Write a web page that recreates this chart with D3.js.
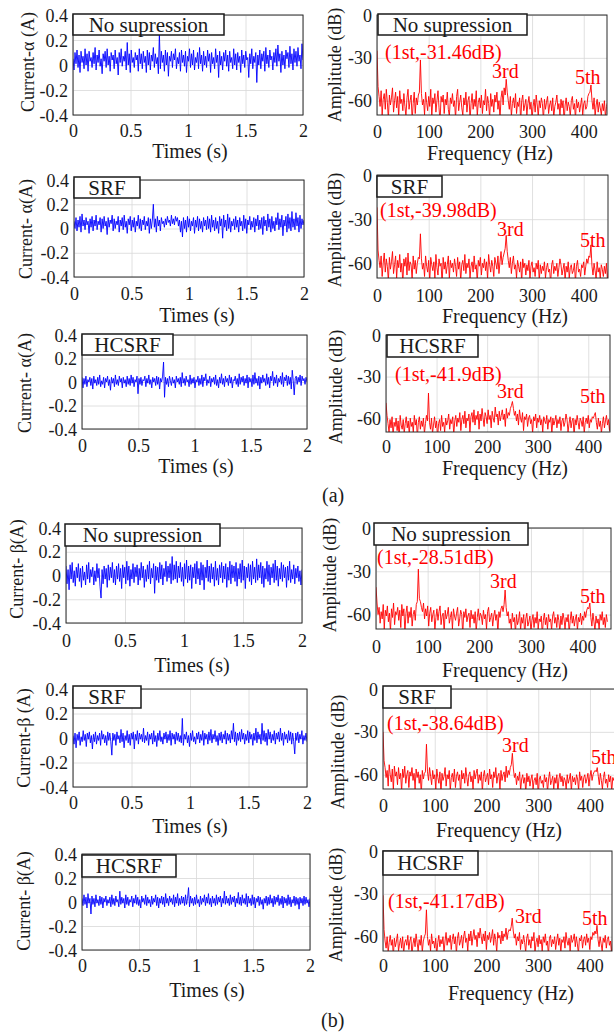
<!DOCTYPE html>
<html>
<head>
<meta charset="utf-8">
<script src="https://cdn.jsdelivr.net/npm/d3@7"></script>
<style>
  html, body { margin: 0; padding: 0; background: #fff; }
  svg { display: block; font-family: "Liberation Serif", "Times New Roman", serif; }
</style>
</head>
<body>
<script>
// ---- tick values ----
const timeTicks = [0, 0.5, 1, 1.5, 2];
const currentTicks = [-0.4, -0.2, 0, 0.2, 0.4];
const freqTicks = [0, 100, 200, 300, 400];
const ampTicks = [-60, -30, 0];

const methods = ["No supression", "SRF", "HCSRF", "No supression", "SRF", "HCSRF"];
const currentLabels = ["Current-α (A)", "Current- α(A)", "Current- α(A)",
                       "Current- β(A)", "Current-β (A)", "Current- β(A)"];
const harmonicNames = ["3rd", "5th"];
const fundamentalDb = [-31.46, -39.98, -41.9, -28.51, -38.64, -41.17];
const sampleSpanS = 2;      // time record length (s)
const spectrumStepHz = 2;   // FFT bin spacing (Hz)

// ---- phase currents (A) ----
const alphaNoSup = [
  .05,-.04,.10,.01,.12,-.02,.08,-.06,.11,.02, .07,-.03,.13,.00,.09,-.05,.11,.03,.06,-.02,
  .10,.01,.14,-.04,.08,.02,.12,-.01,.05,-.07, .09,.03,.11,-.02,.13,.00,.07,-.05,.10,.04,
  .08,-.03,.12,.01,.06,-.08,.10,.02,.13,-.01, .07,.03,.11,-.04,.18,.00,.09,-.06,.12,.02,
  .06,-.02,.10,.04,.08,-.05,.13,.01,.09,-.03, .11,.02,.07,-.06,.12,.00,.10,-.04,.08,.03,
  .14,-.02,.09,.01,.06,-.07,.25,-.03,.11,.02, .08,-.05,.12,.00,.10,-.09,.07,.03,.11,-.02,
  .09,.04,.13,-.03,.06,.01,.10,-.05,.12,.02, .08,-.01,.11,-.06,.07,.03,.13,-.02,.09,.00,
  .12,-.04,.06,.02,.10,-.03,.14,.01,.08,-.05, .11,.00,.07,-.02,.12,.03,.09,-.06,.10,.01,
  .06,-.03,.13,.02,.08,-.10,.11,.00,.07,-.04, .10,.03,.12,-.01,.08,-.05,.11,.02,.06,-.03,
  .13,.00,.09,-.04,.10,.02,.07,-.06,.12,.01, .08,-.02,.11,.04,.06,-.10,.09,.01,.13,-.03,
  .07,.02,.10,-.14,.08,.00,.12,-.03,.09,.03, .11,-.05,.14,.01,.08,-.02,.12,.04,.07,-.04,
  .10,.02,.13,-.01,.16,.03,.09,-.06,.11,.00, .08,-.03,.12,.05,.10,-.02,.15,.01,.09,-.04,
  .13,.02,.11,-.01,.14,.03,.08,-.03,.17,.04];
const alphaSRF = [
  .06,.00,.09,-.02,.07,.01,.10,-.03,.12,.02, .07,-.01,.09,.03,.06,-.04,.08,.01,.10,-.02,
  .07,.02,.11,-.01,.06,.03,.09,-.03,.08,.00, .10,.02,.06,-.05,.09,.01,.07,.04,.11,-.02,
  .08,.00,.06,.03,.10,-.03,.07,.02,.09,-.01, .11,.01,.06,-.04,.08,.03,.10,-.02,.07,.01,
  .09,-.03,.06,.02,.11,.00,.08,-.02,.07,.03, .10,-.01,.06,.02,.09,-.04,.08,.00,.07,.20,
  .01,.08,-.03,.10,.02,.07,-.02,.09,.04,.06, .01,.08,.03,.10,.05,.07,.02,.11,.04,.08,
  .03,.10,.06,.09,.02,.07,-.03,.06,-.07,.09, .00,.07,-.03,.10,.01,.08,-.02,.06,.02,.09,
  -.04,.07,.01,.10,-.02,.08,.00,.06,-.03,.09, .02,.07,-.01,.10,.00,.08,-.03,.11,.01,.07,
  -.02,.09,.00,.06,-.04,.10,.02,.08,-.08,.11, .01,.07,-.02,.12,.00,.09,-.03,.06,.02,.08,
  -.01,.10,.01,.07,-.03,.09,.02,.06,-.02,.11, .00,.08,-.04,.07,.03,.10,-.01,.06,.01,.09,
  -.03,.08,.02,.11,-.01,.07,.00,.09,-.05,.10, .02,.07,-.02,.12,.01,.08,-.03,.10,.00,.06,
  -.02,.09,.03,.13,-.01,.08,.01,.11,-.06,.07, .02,.10,-.03,.12,.00,.09,-.02,.14,.01,.08,
  -.01,.13,.02,.09,-.03,.11,.00,.08,.03,.07];
const alphaHCSRF = [
  .04,-.05,.03,-.02,.05,-.04,.02,.00,.04,-.03, .03,-.06,.05,-.01,.02,-.03,.04,-.02,.06,-.04,
  .01,-.02,.04,-.05,.03,.00,.05,-.03,.02,-.07, .04,-.01,.03,-.04,.06,-.02,.02,-.03,.05,.00,
  .03,-.05,.04,-.01,.02,-.04,.05,-.02,.03,-.03, .06,-.01,.04,-.04,.02,.00,.05,-.10,.03,-.02,
  .04,-.03,.02,.01,.05,-.04,.03,-.01,.06,-.02, .02,-.05,.04,.00,.03,-.03,.05,-.02,.04,-.06,
  .03,.00,.05,.17,-.13,.04,-.02,.03,-.04,.05, .01,-.03,.04,-.01,.02,-.05,.05,.00,.03,-.02,
  .04,-.04,.08,-.01,.03,-.03,.05,.00,.02,-.04, .06,-.02,.03,-.01,.04,-.05,.02,.00,.05,-.03,
  .03,-.02,.06,-.04,.04,.01,.07,-.03,.02,-.01, .05,-.04,.03,.00,.04,-.02,.06,-.03,.02,-.05,
  .04,-.01,.07,-.02,.03,-.04,.05,.00,.03,-.03, .06,-.01,.04,-.05,.02,.01,.05,-.02,.03,-.04,
  .07,-.02,.04,.00,.05,-.03,.03,-.01,.06,-.05, .04,.00,.03,-.04,.06,-.02,.08,-.01,.03,-.03,
  .05,-.06,.04,-.01,.06,.00,.03,-.03,.07,-.02, .04,-.05,.05,.01,.09,-.03,.04,-.01,.06,-.04,
  .03,.00,.05,-.02,.08,-.04,.04,.01,.06,-.03, .05,-.02,.04,-.06,.10,.01,-.11,.03,.05,-.02,
  .04,.00,.06,-.03,.05,.01,.03,-.02,.04,.00];
const betaNoSup = [
  .08,-.07,.05,-.12,.09,-.03,.11,-.06,.04,-.09, .07,-.02,.10,-.05,.06,-.10,.08,-.04,.03,-.08,
  .09,-.03,.11,-.06,.05,-.01,.07,-.08,.04,-.05, .10,-.02,.06,-.09,-.19,.05,-.07,.08,-.03,.06,
  -.10,.09,-.04,.07,-.02,.11,-.06,.05,-.08,.08, -.03,.10,-.05,.06,-.11,.09,-.02,.07,-.07,.12,
  -.04,.08,-.09,.05,-.03,.10,-.06,.07,-.01,.09, -.08,.06,-.04,.11,-.02,.08,-.10,.05,-.05,.09,
  -.03,.12,-.07,.06,-.02,.10,-.15,.08,-.04,.07, -.06,.11,-.03,.09,-.08,.06,-.01,.12,-.05,.08,
  -.02,.10,-.07,.16,-.04,.09,-.03,.12,-.06,.08, -.02,.11,-.05,.07,-.09,.10,-.03,.13,-.06,.08,
  -.04,.09,-.11,.07,-.02,.10,-.07,.12,-.03,.06, -.08,.11,-.04,.09,-.12,.07,-.02,.13,-.05,.08,
  -.06,.10,-.03,.07,-.09,.12,-.04,.06,-.08,.09, -.02,.11,-.06,.08,-.03,.10,-.10,.07,-.04,.12,
  -.07,.09,-.02,.08,-.05,.11,-.09,.06,-.03,.10, -.06,.13,-.04,.08,-.11,.07,-.02,.10,-.05,.09,
  -.08,.12,-.03,.07,-.06,.14,-.04,.09,-.02,.11, -.07,.08,-.10,.06,-.03,.12,-.05,.09,-.08,.07,
  -.02,.10,-.06,.13,-.04,.08,-.09,.06,-.03,.11, -.05,.09,-.02,.07,-.10,.08,-.04,.12,-.06,.05,
  -.03,.09,-.07,.06,-.02,.08,-.05,.04,-.08,.05];
const betaSRF = [
  .02,-.05,.04,-.08,.03,-.02,.05,-.06,.01,-.03, .06,-.02,.03,-.07,.04,-.01,.05,-.04,.02,-.09,
  .03,-.03,.05,-.05,.02,-.02,.04,-.06,.06,-.01, .03,-.04,.02,-.06,.05,-.02,.04,-.03,-.14,.04,
  -.02,.03,-.06,.05,-.01,.02,-.04,.07,-.03,.04, -.08,.02,-.02,.06,-.04,.03,-.06,.04,-.01,.05,
  -.09,.03,-.02,.06,-.05,.04,-.01,.03,-.03,.08, -.04,.02,-.02,.05,-.06,.03,-.01,.04,-.05,.06,
  -.03,.02,-.07,.04,-.02,.06,-.03,.01,-.05,.04, -.01,.05,-.04,.03,-.02,.06,-.06,.04,-.01,.03,
  -.05,.05,-.02,.04,-.03,.02,-.04,.16,-.06,.03, -.01,.05,-.04,.02,-.07,.04,-.02,.06,-.03,.01,
  -.05,.04,-.01,.05,-.04,.03,-.02,.06,-.06,.04, -.01,.03,-.05,.05,-.02,.07,-.04,.03,-.01,.06,
  -.03,.02,-.06,.04,-.02,.05,-.04,.03,-.01,.06, -.05,.04,-.02,.03,-.04,.06,-.01,.12,-.03,.05,
  -.06,.04,-.02,.05,-.03,.07,-.01,.04,-.05,.03, -.02,.06,-.04,.05,-.01,.03,-.06,.04,-.02,.08,
  -.04,.05,-.01,.03,-.05,.12,-.02,.06,-.03,.04, -.06,.07,-.01,.05,-.04,.03,-.02,.06,-.05,.04,
  -.01,.05,-.03,.08,-.02,.04,-.06,.05,-.01,.03, -.04,.06,-.02,.05,-.05,.04,-.03,-.13,.04,-.02,
  .05,-.04,.03,-.01,.06,-.05,.02,-.02,.04,-.03];
const betaHCSRF = [
  .03,-.03,.06,-.02,.04,-.05,.07,-.01,.03,-.10, .05,-.02,.03,-.04,.06,-.01,.02,-.03,.05,-.02,
  .04,-.05,.03,.00,.05,-.03,.02,-.01,.04,-.04, .06,-.02,.03,-.03,.05,.00,.02,-.04,.09,-.02,
  .04,-.01,.03,-.05,.06,-.02,.04,-.03,.02,.00, .05,-.04,.03,-.01,.06,-.02,.04,-.03,.02,-.05,
  .05,.00,.03,-.02,.06,-.03,.04,-.01,.02,-.04, .05,-.02,.03,.00,.06,-.03,.04,-.05,.03,-.01,
  .05,-.02,.04,-.04,.07,-.01,.03,-.03,.05,.00, .03,-.02,.06,-.04,.04,-.01,.07,-.03,.03,-.02,
  .05,-.01,.04,-.03,.06,-.02,.03,.12,-.04,.05, -.01,.03,-.03,.04,-.02,.06,-.01,.02,-.04,.05,
  -.02,.03,.00,.06,-.03,.04,-.01,.07,-.02,.03, -.04,.05,-.01,.03,-.03,.06,-.02,.04,.00,.05,
  -.04,.03,-.01,.09,-.02,.05,-.01,.03,-.03,.06, -.02,.04,.00,.05,-.04,.03,-.01,.08,-.02,.04,
  -.03,.06,-.01,.03,-.02,.07,-.04,.05,-.01,.03, -.03,.06,-.02,.04,-.05,.03,.00,.05,-.03,.04,
  -.02,.02,-.06,.03,-.01,.05,-.03,.04,-.02,.06, -.01,.03,-.04,.05,-.02,.04,.00,.06,-.03,.03,
  -.02,.05,-.05,.04,-.01,.03,-.03,.06,-.02,.04, -.04,.02,-.01,.05,-.03,.04,-.02,.03,-.06,.04,
  -.01,.03,-.03,.05,-.02,.04,-.01,.02,-.04,.03];

// ---- amplitude spectra (dB), one value per FFT bin ----
const specAlphaNoSup = [-25,
  -50,-57,-64,-53,-70,-59,-55,-66,-52,-61,-73,-56,-63,-58,-51,-68,-60,-54,-65,-57,
  -72,-53,-62,-59,-67,-55,-64,-71,-58,-52,-66,-60,-56,-74,-62,-54,-69,-58,-63,-56,-54,
  -31.46,
  -55,-63,-59,-70,-54,-61,-67,-57,-64,-52,-72,-58,-62,-55,-68,-60,-53,-65,-75,-57,
  -61,-56,-69,-59,-63,-54,-66,-71,-58,-62,-55,-64,-60,-73,-57,-52,-67,-61,-56,-65,
  -70,-58,-63,-54,-68,-60,-57,-74,-62,-55,-66,-59,-64,-53,-71,-61,-58,-65,-56,-69,
  -60,-63,-52,-67,-57,-62,-72,-55,-64,-59,-68,-56,-61,-54,-66,-60,-73,-58,-53,-63,-51,-56,
  -45,
  -54,-60,-66,-57,-71,-62,-58,-65,-55,-69,-61,-64,-58,-75,-60,-56,-67,-63,-59,-70,
  -62,-57,-66,-61,-73,-64,-59,-68,-56,-63,-71,-60,-65,-58,-62,-74,-59,-66,-61,-57,
  -69,-63,-60,-67,-58,-72,-64,-61,-56,-66,-62,-70,-59,-65,-60,-75,-63,-58,-67,-61,
  -64,-71,-60,-57,-66,-62,-73,-59,-65,-61,-68,-63,-58,-70,-62,-60,-66,-64,-57,-55,-54,
  -49,
  -60,-66,-58,-71,-63,-59,-68,-61,-65,-70,-62,-67,-60,-72,-64,-61,-66];
const specAlphaSRF = [-22,
  -51,-58,-63,-55,-69,-60,-53,-66,-57,-62,-72,-56,-64,-59,-52,-67,-61,-55,-70,-58,
  -63,-54,-66,-60,-74,-57,-62,-56,-68,-53,-65,-59,-61,-71,-55,-64,-58,-67,-60,-56,-57,
  -39.98,
  -57,-64,-60,-69,-55,-62,-66,-58,-73,-56,-61,-65,-59,-70,-54,-63,-68,-57,-62,-60,
  -75,-56,-64,-59,-67,-61,-55,-71,-58,-63,-60,-66,-57,-62,-69,-56,-64,-59,-72,-61,
  -58,-65,-54,-67,-60,-63,-57,-70,-62,-59,-66,-55,-64,-61,-73,-58,-62,-56,-68,-60,
  -63,-57,-65,-59,-71,-54,-61,-66,-58,-62,-69,-56,-60,-64,-55,-67,-59,-52,-61,-56,-53,-50,
  -41,
  -52,-58,-63,-56,-67,-60,-55,-64,-61,-70,-58,-62,-66,-59,-73,-57,-63,-60,-68,-61,
  -65,-58,-71,-62,-59,-66,-63,-69,-60,-64,-58,-72,-61,-67,-62,-65,-59,-70,-63,-60,
  -66,-64,-74,-61,-58,-67,-62,-65,-60,-69,-63,-57,-61,-68,-64,-60,-72,-62,-66,-59,
  -70,-63,-61,-67,-65,-60,-73,-62,-58,-66,-64,-69,-61,-63,-59,-68,-62,-57,-60,-55,-56,
  -47.5,
  -62,-68,-60,-65,-71,-59,-66,-63,-70,-61,-64,-69,-62,-67,-60,-72,-63];
const specAlphaHCSRF = [-49,
  -58,-64,-70,-61,-67,-59,-73,-63,-66,-60,-69,-62,-75,-58,-65,-68,-61,-71,-64,-59,
  -67,-62,-72,-60,-66,-63,-70,-58,-65,-61,-74,-63,-59,-68,-62,-66,-60,-71,-64,-58,-62,
  -41.9,
  -63,-68,-60,-71,-65,-59,-67,-62,-74,-64,-61,-69,-58,-66,-63,-70,-60,-65,-62,-57,
  -68,-61,-64,-59,-72,-62,-58,-66,-60,-63,-56,-69,-61,-58,-64,-55,-67,-60,-62,-57,
  -70,-59,-56,-63,-54,-65,-58,-61,-55,-68,-57,-62,-53,-60,-66,-56,-59,-64,-54,-61,
  -58,-67,-55,-60,-63,-52,-59,-57,-65,-55,-62,-58,-54,-61,-57,-66,-53,-60,-56,-58,-53,-51,
  -48,
  -53,-58,-55,-62,-57,-65,-54,-60,-63,-56,-69,-59,-61,-57,-66,-60,-58,-64,-61,-71,
  -59,-62,-57,-67,-60,-63,-58,-65,-61,-70,-59,-62,-64,-58,-68,-61,-63,-59,-72,-60,
  -65,-62,-58,-67,-61,-64,-59,-69,-62,-60,-66,-63,-57,-61,-70,-64,-59,-67,-62,-60,
  -73,-61,-65,-58,-63,-68,-60,-62,-66,-59,-71,-63,-60,-64,-58,-67,-61,-63,-59,-60,-58,
  -56,
  -63,-68,-60,-66,-62,-71,-64,-59,-67,-62,-58,-65,-61,-69,-60,-64,-62];
const specBetaNoSup = [-41,
  -52,-60,-55,-66,-58,-63,-53,-70,-57,-61,-54,-65,-59,-72,-56,-62,-52,-67,-58,-60,
  -55,-64,-57,-69,-53,-61,-56,-73,-59,-54,-66,-58,-62,-55,-68,-60,-57,-64,-53,-51,
  -28.51,
  -49,-51,-55,-58,-52,-63,-56,-61,-54,-68,-59,-55,-65,-60,-57,-71,-62,-56,-64,-58,
  -54,-67,-61,-59,-73,-57,-63,-60,-55,-66,-62,-58,-70,-56,-61,-64,-59,-55,-68,-63,
  -57,-60,-74,-58,-62,-56,-65,-61,-59,-69,-57,-63,-60,-66,-58,-72,-62,-56,-64,-59,
  -61,-67,-57,-63,-60,-70,-58,-55,-65,-62,-59,-68,-61,-57,-64,-60,-73,-58,-62,-56,-54,-58,-53,
  -43,
  -55,-61,-58,-66,-63,-70,-59,-65,-62,-73,-60,-67,-64,-58,-71,-62,-66,-60,-75,-63,
  -59,-68,-65,-61,-72,-64,-60,-69,-62,-66,-58,-70,-63,-65,-61,-74,-64,-59,-67,-62,
  -70,-60,-65,-63,-71,-61,-58,-66,-62,-69,-60,-64,-72,-61,-67,-59,-63,-70,-62,-65,
  -60,-73,-64,-58,-66,-61,-68,-63,-60,-71,-62,-65,-59,-67,-61,-64,-58,-62,-57,-55,-56,
  -52,
  -62,-68,-59,-65,-71,-61,-66,-63,-70,-60,-64,-58,-67,-62,-69,-60,-65];
const specBetaSRF = [-30,
  -50,-55,-62,-57,-68,-53,-60,-65,-56,-71,-54,-61,-58,-67,-55,-63,-59,-72,-56,-62,
  -54,-66,-60,-57,-69,-58,-61,-55,-64,-59,-70,-56,-62,-58,-66,-60,-74,-57,-63,-59,-58,
  -38.64,
  -58,-64,-55,-61,-67,-57,-63,-60,-70,-56,-62,-66,-58,-73,-59,-64,-61,-55,-68,-60,
  -63,-57,-71,-62,-59,-65,-56,-69,-61,-58,-64,-60,-74,-57,-63,-59,-66,-55,-62,-68,
  -60,-58,-65,-61,-70,-57,-63,-59,-56,-66,-60,-64,-58,-72,-61,-57,-65,-62,-59,-67,
  -56,-63,-60,-69,-58,-62,-55,-66,-61,-59,-71,-57,-64,-60,-58,-65,-54,-62,-57,-60,-55,-53,
  -45,
  -56,-62,-59,-67,-61,-64,-58,-71,-63,-60,-66,-62,-73,-59,-65,-61,-68,-63,-60,-70,
  -64,-62,-67,-59,-75,-63,-61,-66,-64,-69,-60,-65,-62,-72,-63,-58,-67,-64,-61,-70,
  -62,-66,-60,-73,-63,-59,-65,-61,-68,-62,-64,-70,-60,-66,-63,-59,-72,-61,-65,-62,
  -67,-60,-63,-71,-58,-64,-61,-69,-62,-60,-66,-63,-59,-68,-61,-57,-64,-60,-58,-57,-58,
  -55,
  -61,-67,-59,-64,-70,-62,-58,-66,-63,-69,-60,-65,-61,-72,-62,-64,-60];
const specBetaHCSRF = [-31,
  -55,-63,-68,-60,-71,-64,-59,-66,-62,-74,-61,-67,-63,-58,-70,-65,-61,-68,-60,-72,
  -64,-62,-66,-59,-69,-63,-60,-73,-65,-61,-67,-58,-64,-70,-62,-66,-59,-71,-63,-60,-58,
  -41.17,
  -60,-66,-62,-70,-58,-65,-63,-68,-61,-73,-64,-59,-67,-62,-65,-60,-71,-63,-57,-66,
  -61,-64,-59,-69,-62,-58,-65,-60,-72,-61,-57,-66,-63,-59,-68,-60,-56,-64,-61,-70,
  -58,-63,-56,-66,-60,-55,-62,-59,-67,-57,-61,-54,-60,-65,-58,-63,-56,-69,-59,-62,
  -57,-64,-60,-55,-66,-58,-62,-71,-57,-61,-59,-65,-56,-63,-58,-60,-54,-62,-57,-55,-56,-53,
  -47,
  -56,-61,-58,-66,-60,-63,-57,-69,-62,-65,-59,-64,-71,-61,-58,-66,-62,-68,-60,-63,
  -57,-72,-64,-61,-67,-59,-65,-62,-70,-60,-64,-58,-66,-63,-73,-61,-59,-67,-62,-65,
  -60,-69,-63,-58,-66,-61,-71,-62,-64,-60,-68,-57,-63,-66,-61,-70,-59,-64,-62,-58,
  -67,-60,-65,-72,-61,-63,-59,-68,-62,-60,-66,-58,-64,-61,-69,-60,-62,-57,-59,-56,-58,
  -52,
  -62,-67,-60,-65,-70,-61,-64,-59,-68,-62,-60,-66,-63,-71,-61,-64,-59];

const currents = [alphaNoSup, alphaSRF, alphaHCSRF, betaNoSup, betaSRF, betaHCSRF];
const spectra = [specAlphaNoSup, specAlphaSRF, specAlphaHCSRF, specBetaNoSup, specBetaSRF, specBetaHCSRF];

// ---- page layout (pixel geometry of each axes) ----
const timeLayout = [
  { x0: 73, x1: 303, y0: 15,  y1: 115, box: [73, 14, 151, 21],  yl: [28, 62],  xl: [190, 158], tk: 22 },
  { x0: 74, x1: 304, y0: 180, y1: 277, box: [74, 177, 66, 21],  yl: [26, 229], xl: [197, 322], tk: 23 },
  { x0: 82, x1: 307, y0: 335, y1: 429, box: [82, 334, 91, 21],  yl: [25, 383], xl: [196, 473], tk: 23 },
  { x0: 66, x1: 302, y0: 528, y1: 623, box: [65, 524, 155, 22], yl: [17, 569], xl: [192, 672], tk: 24 },
  { x0: 73, x1: 307, y0: 689, y1: 787, box: [73, 686, 68, 22],  yl: [24, 738], xl: [190, 833], tk: 22 },
  { x0: 82, x1: 310, y0: 854, y1: 950, box: [82, 855, 94, 22],  yl: [24, 901], xl: [207, 997], tk: 22 }
];
const specLayout = [
  { x0: 377, x1: 607, y0: 15,  y1: 115, fMax: 445, box: [378, 14, 149, 21],  yl: [335, 65],  xl: [490, 160],  tk: 23, ann: [[385, 59], [492, 78], [575, 84]] },
  { x0: 377, x1: 608, y0: 175, y1: 278, fMax: 447, box: [377, 176, 65, 21],  yl: [335, 230], xl: [505, 323],  tk: 24, ann: [[380, 217], [497, 236], [580, 247]] },
  { x0: 386, x1: 610, y0: 335, y1: 432, fMax: 443, box: [387, 335, 91, 22],  yl: [336, 387], xl: [505, 475],  tk: 21, ann: [[395, 381], [497, 398], [580, 403]] },
  { x0: 376, x1: 611, y0: 528, y1: 629, fMax: 455, box: [374, 523, 154, 22], yl: [330, 575], xl: [505, 677],  tk: 24, ann: [[377, 564], [490, 588], [580, 603]] },
  { x0: 383, x1: 620, y0: 689, y1: 789, fMax: 458, box: [383, 686, 68, 22],  yl: [338, 752], xl: [499, 837],  tk: 23, ann: [[387, 730], [502, 752], [591, 764]] },
  { x0: 383, x1: 612, y0: 851, y1: 951, fMax: 443, box: [383, 851, 95, 24],  yl: [336, 905], xl: [511, 1000], tk: 21, ann: [[388, 908], [515, 923], [582, 925]] }
];

const W = 614, H = 1036;
const svg = d3.select("body").append("svg").attr("width", W).attr("height", H);
const defs = svg.append("defs");
const fmtNum = d => String(d);
const ink = "#1a1a1a";
let clipCount = 0;

function drawAxes(L, xs, ys, xTicks, yTicks, values, xOf, color) {
  const g = svg.append("g");
  const w = L.x1 - L.x0, h = L.y1 - L.y0;

  // grid
  g.append("g").attr("transform", `translate(0,${L.y1})`)
    .call(d3.axisBottom(xs).tickValues(xTicks).tickSize(-h).tickFormat(""))
    .call(s => { s.select(".domain").remove(); s.selectAll("line").attr("stroke", "#d8d8d8").attr("stroke-width", 0.8); });
  g.append("g").attr("transform", `translate(${L.x0},0)`)
    .call(d3.axisLeft(ys).tickValues(yTicks).tickSize(-w).tickFormat(""))
    .call(s => { s.select(".domain").remove(); s.selectAll("line").attr("stroke", "#d8d8d8").attr("stroke-width", 0.8); });

  // trace
  const id = "clip" + (clipCount++);
  defs.append("clipPath").attr("id", id)
    .append("rect").attr("x", L.x0).attr("y", L.y0).attr("width", w).attr("height", h);
  g.append("path").datum(values)
    .attr("clip-path", `url(#${id})`)
    .attr("fill", "none").attr("stroke", color).attr("stroke-width", 0.9)
    .attr("stroke-linejoin", "round")
    .attr("d", d3.line().x((d, i) => xs(xOf(i))).y(d => ys(d)));

  // frame
  g.append("rect").attr("x", L.x0).attr("y", L.y0).attr("width", w).attr("height", h)
    .attr("fill", "none").attr("stroke", "#2a2a2a").attr("stroke-width", 1);

  // tick labels
  const xa = g.append("g").attr("transform", `translate(0,${L.y1})`)
    .call(d3.axisBottom(xs).tickValues(xTicks).tickSize(0).tickFormat(fmtNum));
  xa.select(".domain").remove();
  xa.attr("font-family", null).attr("font-size", null);
  xa.selectAll("text").attr("y", L.tk).attr("dy", 0).attr("font-size", 18).attr("fill", ink);

  const ya = g.append("g").attr("transform", `translate(${L.x0},0)`)
    .call(d3.axisLeft(ys).tickValues(yTicks).tickSize(0).tickFormat(fmtNum));
  ya.select(".domain").remove();
  ya.attr("font-family", null).attr("font-size", null);
  ya.selectAll("text").attr("x", -5).attr("dy", "0.34em").attr("font-size", 18).attr("fill", ink);
  return g;
}

function titleBox(g, box, text) {
  const [bx, by, bw, bh] = box;
  g.append("rect").attr("x", bx).attr("y", by).attr("width", bw).attr("height", bh)
    .attr("fill", "#fff").attr("stroke", ink).attr("stroke-width", 1.5);
  g.append("text").attr("x", bx + bw / 2).attr("y", by + bh / 2 + 7)
    .attr("text-anchor", "middle").attr("font-size", 21).attr("fill", ink).text(text);
}

function rotatedLabel(g, pos, text) {
  g.append("text").attr("transform", `translate(${pos[0]},${pos[1]}) rotate(-90)`)
    .attr("text-anchor", "middle").attr("dominant-baseline", "central")
    .attr("font-size", 18).attr("fill", ink).text(text);
}

// time-domain currents
currents.forEach((vals, k) => {
  const L = timeLayout[k];
  const xs = d3.scaleLinear().domain([0, sampleSpanS]).range([L.x0, L.x1]);
  const ys = d3.scaleLinear().domain([-0.4, 0.4]).range([L.y1, L.y0]);
  const n = vals.length;
  const g = drawAxes(L, xs, ys, timeTicks, currentTicks, vals, i => i * sampleSpanS / (n - 1), "#0000ff");
  titleBox(g, L.box, methods[k]);
  rotatedLabel(g, L.yl, currentLabels[k]);
  g.append("text").attr("x", L.xl[0]).attr("y", L.xl[1]).attr("text-anchor", "middle")
    .attr("font-size", 20).attr("fill", ink).text("Times (s)");
});

// amplitude spectra
spectra.forEach((vals, k) => {
  const L = specLayout[k];
  const xs = d3.scaleLinear().domain([0, L.fMax]).range([L.x0, L.x1]);
  const ys = d3.scaleLinear().domain([-70, 0]).range([L.y1, L.y0]);
  const g = drawAxes(L, xs, ys, freqTicks, ampTicks, vals, i => i * spectrumStepHz, "#ff0000");
  titleBox(g, L.box, methods[k]);
  rotatedLabel(g, L.yl, "Amplitude (dB)");
  g.append("text").attr("x", L.xl[0]).attr("y", L.xl[1]).attr("text-anchor", "middle")
    .attr("font-size", 20).attr("fill", ink).text("Frequency (Hz)");
  const notes = [`(1st,${fundamentalDb[k]}dB)`, ...harmonicNames];
  notes.forEach((t, j) => {
    g.append("text").attr("x", L.ann[j][0]).attr("y", L.ann[j][1])
      .attr("font-size", 20).attr("fill", "#ff0000").text(t);
  });
});

// sub-figure captions
svg.append("text").attr("x", 322).attr("y", 502).attr("font-size", 20).attr("fill", ink).text("(a)");
svg.append("text").attr("x", 321).attr("y", 1027).attr("font-size", 20).attr("fill", ink).text("(b)");
</script>
</body>
</html>
